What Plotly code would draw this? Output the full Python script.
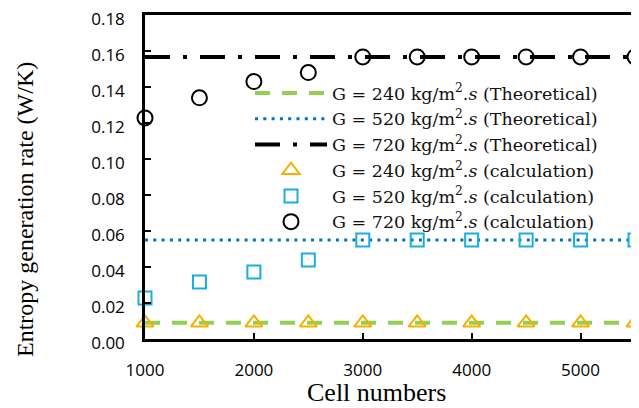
import plotly.graph_objects as go

cells = [1000, 1500, 2000, 2500, 3000, 3500, 4000, 4500, 5000, 5500]
theo_240 = [0.009] * 10
theo_520 = [0.055] * 10
theo_720 = [0.1567] * 10
calc_240 = [0.009, 0.009, 0.009, 0.009, 0.009, 0.009, 0.009, 0.009, 0.009, 0.009]
calc_520 = [0.0228, 0.0317, 0.0372, 0.0439, 0.055, 0.055, 0.055, 0.055, 0.055, 0.055]
calc_720 = [0.1228, 0.134, 0.143, 0.148, 0.1567, 0.1567, 0.1567, 0.1567, 0.1567, 0.1567]

xticks = [1000, 2000, 3000, 4000, 5000]
yticks = [0.00, 0.02, 0.04, 0.06, 0.08, 0.10, 0.12, 0.14, 0.16, 0.18]

fig = go.Figure()
fig.add_trace(go.Scatter(x=cells, y=theo_240, mode="lines",
                         name="G = 240 kg/m<sup>2</sup>.<i>s</i> (Theoretical)",
                         line=dict(color="#92D050", width=4, dash="15px,12px")))
fig.add_trace(go.Scatter(x=cells, y=theo_520, mode="lines",
                         name="G = 520 kg/m<sup>2</sup>.<i>s</i> (Theoretical)",
                         line=dict(color="#0070C0", width=3, dash="3px,5.3px")))
fig.add_trace(go.Scatter(x=cells, y=theo_720, mode="lines",
                         name="G = 720 kg/m<sup>2</sup>.<i>s</i> (Theoretical)",
                         line=dict(color="#000000", width=4, dash="25px,13px,4px,13px")))
fig.add_trace(go.Scatter(x=cells, y=calc_240, mode="markers", cliponaxis=False,
                         name="G = 240 kg/m<sup>2</sup>.<i>s</i> (calculation)",
                         marker=dict(symbol="triangle-up-open", size=15, color="#F5B000",
                                     line=dict(width=2, color="#F5B000"))))
fig.add_trace(go.Scatter(x=cells, y=calc_520, mode="markers", cliponaxis=False,
                         name="G = 520 kg/m<sup>2</sup>.<i>s</i> (calculation)",
                         marker=dict(symbol="square-open", size=13, color="#1AADE4",
                                     line=dict(width=2, color="#1AADE4"))))
fig.add_trace(go.Scatter(x=cells, y=calc_720, mode="markers", cliponaxis=False,
                         name="G = 720 kg/m<sup>2</sup>.<i>s</i> (calculation)",
                         marker=dict(symbol="circle-open", size=15, color="#000000",
                                     line=dict(width=2, color="#000000"))))

# page body adds an 8px offset; figure is sized to fill the remaining window
W, H = 631, 400
L, R, T, B = 137, 4, 7, 69
pw, ph = W - L - R, H - T - B

fig.update_layout(
    width=W, height=H,
    margin=dict(l=L, r=R, t=T, b=B, autoexpand=False),
    plot_bgcolor="white", paper_bgcolor="white",
    showlegend=True,
    legend=dict(x=(250 - 145) / pw, y=(339 - 75) / ph, xanchor="left", yanchor="top",
                bgcolor="rgba(0,0,0,0)", itemwidth=72,
                font=dict(family="DejaVu Serif", size=17.5, color="#111"),
                tracegroupgap=0, itemsizing="trace"),
    xaxis=dict(range=[1000, 5500], tickvals=xticks, ticks="inside", ticklen=6,
               tickwidth=1.5, tickcolor="black", showgrid=False, zeroline=False,
               showline=True, linecolor="black", linewidth=2.5, automargin=False,
               mirror=True,
               tickfont=dict(family="Open Sans", size=17, color="black"),
               ticklabelstandoff=14, ticklabeloverflow="allow"),
    yaxis=dict(range=[0, 0.18], tickvals=yticks, tickformat=".2f", ticks="inside",
               ticklen=6, tickwidth=1.5, tickcolor="black", showgrid=False,
               zeroline=False, showline=True, linecolor="black", linewidth=2.5,
               automargin=False, ticklabeloverflow="allow", ticklabelshift=4,
               mirror=True,
               tickfont=dict(family="Open Sans", size=17, color="black"),
               ticklabelstandoff=14),
    annotations=[
        dict(text="Cell numbers", xref="paper", x=(376 - 145) / pw,
             yref="paper", y=(339 - 392) / ph, xanchor="center", yanchor="middle",
             showarrow=False, font=dict(family="Liberation Serif", size=26, color="black")),
        dict(text="Entropy generation rate (W/K)", textangle=-90,
             xref="paper", x=(25 - 145) / pw, yref="paper", y=(339 - 210) / ph,
             xanchor="center", yanchor="middle", showarrow=False,
             font=dict(family="Liberation Serif", size=24, color="black")),
    ],
)
fig.write_html("out.html")
